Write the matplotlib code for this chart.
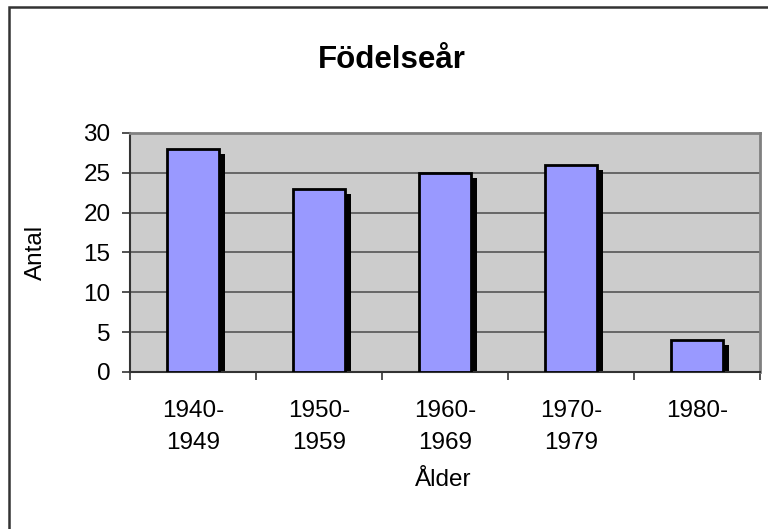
import matplotlib.pyplot as plt
from matplotlib.patches import Rectangle
import numpy as np

plt.rcParams['font.family'] = ['Liberation Sans', 'DejaVu Sans']

categories = ["1940-\n1949", "1950-\n1959", "1960-\n1969", "1970-\n1979", "1980-"]
counts = [28, 23, 25, 26, 4]

fig = plt.figure(figsize=(7.68, 5.29), dpi=100)
ax = fig.add_axes([0.1693, 0.2968, 0.8203, 0.4518])

# outer chart border (runs off the right/bottom edge like the original)
fig.patches.append(Rectangle((9 / 768, -0.05), 1.2, 1 - 7 / 529 + 0.05,
                             transform=fig.transFigure, fill=False,
                             edgecolor='#333333', linewidth=1.8, zorder=0))

x = np.arange(len(counts))
bw = 0.41
# drop shadows
ax.bar(x + 0.045, np.array(counts) - 0.65, width=bw, color='black', zorder=2)
ax.bar(x, counts, width=bw, color='#9999FF', edgecolor='black', linewidth=2, zorder=3)

ax.set_facecolor('#CCCCCC')
ax.set_xlim(-0.5, len(counts) - 0.5)
ax.set_ylim(0, 30)
ax.set_yticks(np.arange(0, 31, 5))
ax.yaxis.grid(True, color='#555555', linewidth=1.2)
ax.set_axisbelow(True)

ax.set_xticks(np.arange(-0.5, len(counts)), labels=[])
ax.set_xticks(x, labels=categories, minor=True)
ax.tick_params(axis='x', which='major', length=6, width=1.2, color='#333333', direction='out')
ax.tick_params(axis='x', which='minor', length=0, pad=20, labelsize=17.5)
ax.tick_params(axis='y', length=6, width=1.2, color='#333333', direction='out', pad=8, labelsize=17.5)
for lab in ax.get_xticklabels(minor=True):
    lab.set_linespacing(1.6)

for s in ['top', 'right']:
    ax.spines[s].set_color('#808080')
    ax.spines[s].set_linewidth(2)
for s in ['left', 'bottom']:
    ax.spines[s].set_color('#333333')
    ax.spines[s].set_linewidth(1.5)

fig.text(392 / 768, 1 - 60 / 529, 'Födelseår', fontsize=22.5, fontweight='bold',
         ha='center', va='center')
fig.text(443 / 768, 1 - 480 / 529, 'Ålder', fontsize=17.5, ha='center', va='center')
fig.text(36 / 768, 1 - 252 / 529, 'Antal', fontsize=17.5, ha='center', va='center',
         rotation=90)

fig.savefig('out.png', dpi=100)
